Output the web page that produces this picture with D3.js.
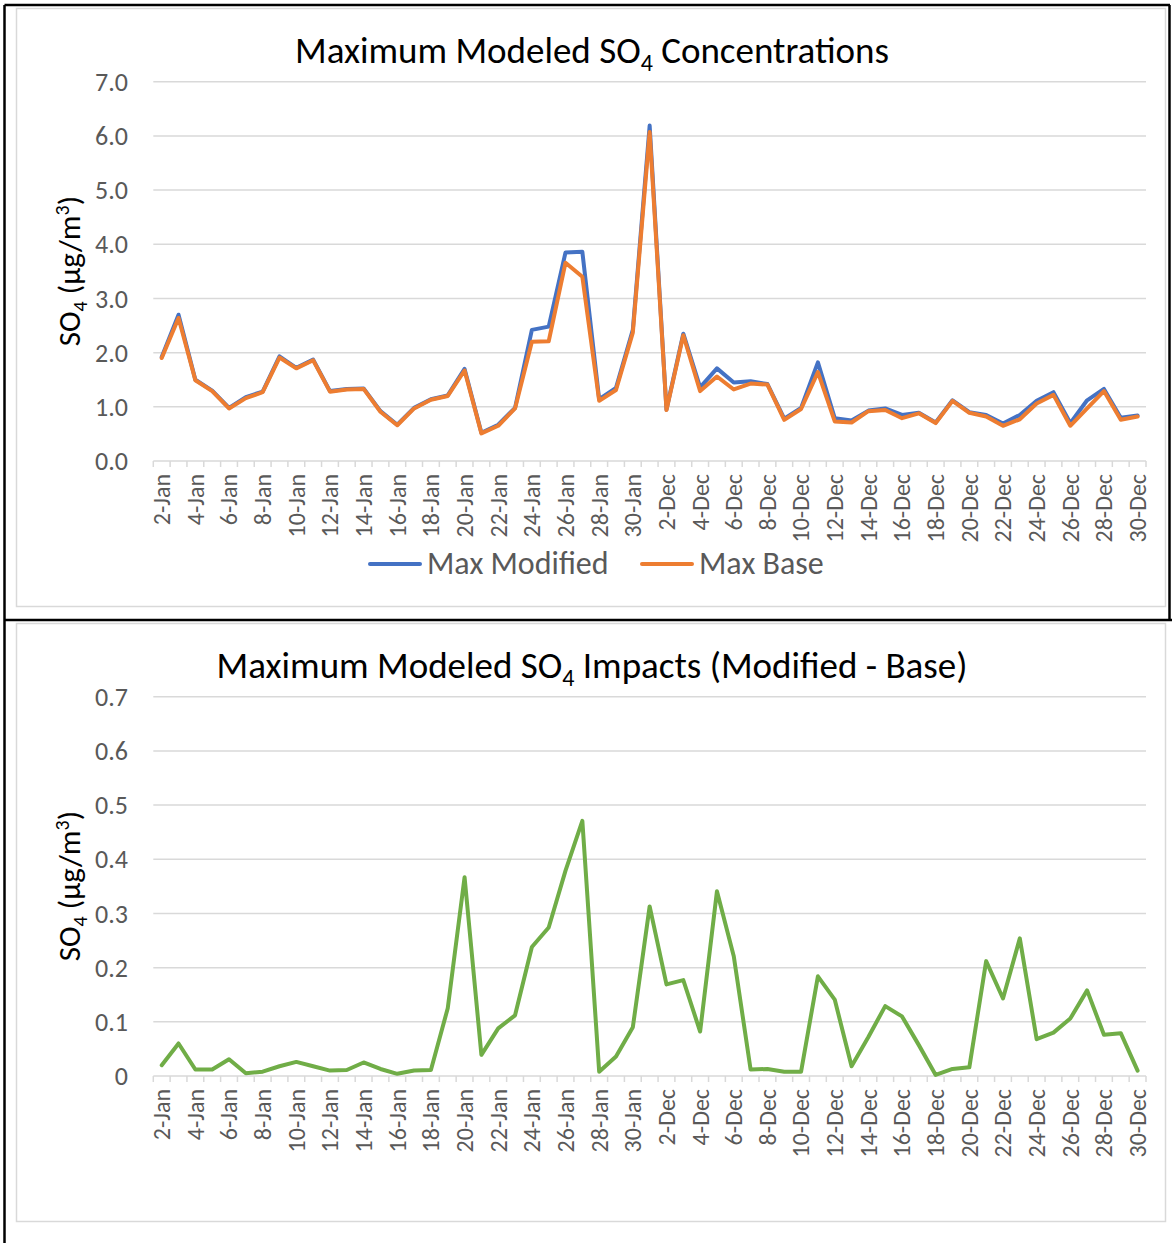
<!DOCTYPE html>
<html>
<head>
<meta charset="UTF-8">
<title>Maximum Modeled SO4</title>
<script src="https://d3js.org/d3.v7.min.js"></script>
<style>
 body { margin: 0; background: #fff; }
 text { font-family: Carlito, "Open Sans", sans-serif; }
</style>
</head>
<body>
<svg width="1172" height="1243"></svg>
<script>
// ---- data ----
var days = [];
for (var d = 2; d <= 31; d++) days.push(d + "-Jan");
for (var d = 2; d <= 30; d++) days.push(d + "-Dec");

var maxModified = [1.92, 2.70, 1.50, 1.30, 0.98, 1.18, 1.28, 1.93, 1.72, 1.87,
                   1.29, 1.33, 1.34, 0.92, 0.67, 0.98, 1.14, 1.21, 1.70, 0.52,
                   0.67, 0.98, 2.42, 2.48, 3.85, 3.86, 1.14, 1.35, 2.42, 6.19,
                   0.95, 2.35, 1.36, 1.71, 1.45, 1.47, 1.42, 0.78, 0.98, 1.82,
                   0.79, 0.75, 0.93, 0.97, 0.85, 0.89, 0.71, 1.12, 0.90, 0.85,
                   0.69, 0.85, 1.11, 1.27, 0.70, 1.12, 1.33, 0.80, 0.84];

var maxBase = [1.90, 2.64, 1.49, 1.29, 0.97, 1.16, 1.27, 1.91, 1.71, 1.86,
               1.28, 1.32, 1.33, 0.91, 0.66, 0.97, 1.13, 1.20, 1.67, 0.51,
               0.65, 0.97, 2.20, 2.21, 3.66, 3.40, 1.11, 1.31, 2.37, 6.07,
               0.94, 2.32, 1.29, 1.56, 1.32, 1.43, 1.41, 0.76, 0.96, 1.64,
               0.73, 0.71, 0.92, 0.94, 0.79, 0.88, 0.70, 1.11, 0.89, 0.82,
               0.65, 0.77, 1.06, 1.22, 0.65, 0.97, 1.29, 0.76, 0.82];

var impact = [0.020, 0.060, 0.012, 0.012, 0.031, 0.005, 0.008, 0.018, 0.026, 0.018,
              0.010, 0.011, 0.025, 0.013, 0.004, 0.010, 0.011, 0.125, 0.367, 0.039,
              0.088, 0.112, 0.238, 0.274, 0.379, 0.471, 0.008, 0.036, 0.090, 0.313,
              0.169, 0.177, 0.082, 0.341, 0.221, 0.012, 0.013, 0.008, 0.008, 0.184,
              0.141, 0.018, 0.072, 0.129, 0.110, 0.057, 0.002, 0.013, 0.016, 0.212,
              0.143, 0.254, 0.068, 0.080, 0.106, 0.158, 0.076, 0.079, 0.010];

var concTicks = [0, 1, 2, 3, 4, 5, 6, 7];
var impactTicks = [0, 0.1, 0.2, 0.3, 0.4, 0.5, 0.6, 0.7];

var svg = d3.select("svg");

var x = d3.scaleBand().domain(days).range([153.3, 1146]);
function cx(d) { return x(d) + x.bandwidth() / 2; }

// chart area frames (light grey)
svg.append("rect").attr("x", 16.5).attr("y", 8.5).attr("width", 1149).attr("height", 598)
   .style("fill", "none").style("stroke", "#d9d9d9").style("stroke-width", 1.5);
svg.append("rect").attr("x", 16.5).attr("y", 623.5).attr("width", 1149).attr("height", 598)
   .style("fill", "none").style("stroke", "#d9d9d9").style("stroke-width", 1.5);

function drawPanel(oy, ticks, fmt, seriesList, titleA, titleB) {
  var y = d3.scaleLinear().domain([0, ticks[ticks.length - 1]]).range([oy + 461, oy + 81.7]);
  var g = svg.append("g");

  // gridlines
  g.selectAll(".grid").data(ticks).enter().append("line")
    .attr("x1", 153.3).attr("x2", 1146)
    .attr("y1", function(t) { return y(t); }).attr("y2", function(t) { return y(t); })
    .style("stroke", "#d9d9d9").style("stroke-width", 1.5);

  // y tick labels
  g.selectAll(".ylab").data(ticks).enter().append("text")
    .attr("x", 128).attr("y", function(t) { return y(t); })
    .attr("dy", "0.35em").attr("text-anchor", "end")
    .style("font-size", "26px").style("fill", "#595959")
    .text(fmt);

  // x tick marks between categories
  var bounds = days.map(function(d) { return x(d); }).concat([1146]);
  g.selectAll(".xtick").data(bounds).enter().append("line")
    .attr("x1", function(b) { return b; }).attr("x2", function(b) { return b; })
    .attr("y1", y(0)).attr("y2", y(0) + 6)
    .style("stroke", "#d9d9d9").style("stroke-width", 1.5);

  // x labels, every other category
  g.selectAll(".xlab").data(days.filter(function(d, i) { return i % 2 === 0; }))
    .enter().append("text")
    .attr("transform", function(d) { return "translate(" + cx(d) + "," + (y(0) + 13) + ") rotate(-90)"; })
    .attr("dy", "0.35em").attr("text-anchor", "end")
    .style("font-size", "24px").style("fill", "#595959")
    .text(function(d) { return d; });

  // lines
  seriesList.forEach(function(s) {
    var line = d3.line()
      .x(function(v, i) { return cx(days[i]); })
      .y(function(v) { return y(v); });
    g.append("path").datum(s.values)
      .attr("d", line)
      .style("fill", "none").style("stroke", s.color).style("stroke-width", 4)
      .style("stroke-linejoin", "round").style("stroke-linecap", "round");
  });

  // title
  var t = g.append("text").attr("x", 592).attr("y", oy + 63).attr("text-anchor", "middle")
    .style("font-size", "37px").style("fill", "#000");
  t.append("tspan").text(titleA);
  t.append("tspan").attr("dy", 8).style("font-size", "24px").text("4");
  t.append("tspan").attr("dy", -8).text(titleB);

  // y axis title
  var yt = g.append("text")
    .attr("transform", "translate(80," + (oy + 271) + ") rotate(-90)")
    .attr("text-anchor", "middle").style("font-size", "31px").style("fill", "#000");
  yt.append("tspan").text("SO");
  yt.append("tspan").attr("dy", 7).style("font-size", "20px").text("4");
  yt.append("tspan").attr("dy", -7).text(" (\u00b5g/m");
  yt.append("tspan").attr("dy", -11).style("font-size", "20px").text("3");
  yt.append("tspan").attr("dy", 11).text(")");
}

drawPanel(0, concTicks, d3.format(".1f"),
  [{ values: maxModified, color: "#4472c4" }, { values: maxBase, color: "#ed7d31" }],
  "Maximum Modeled SO", " Concentrations");

drawPanel(615, impactTicks, function(t) { return t === 0 ? "0" : d3.format(".1f")(t); },
  [{ values: impact, color: "#70ad47" }],
  "Maximum Modeled SO", " Impacts (Modified - Base)");

// legend for the top panel
var legendItems = [
  { name: "Max Modified", color: "#4472c4", x: 368 },
  { name: "Max Base", color: "#ed7d31", x: 640 }
];
legendItems.forEach(function(it) {
  svg.append("line").attr("x1", it.x + 2).attr("x2", it.x + 52).attr("y1", 564).attr("y2", 564)
    .style("stroke", it.color).style("stroke-width", 4).style("stroke-linecap", "round");
  svg.append("text").attr("x", it.x + 59).attr("y", 574)
    .style("font-size", "32px").style("fill", "#595959").text(it.name);
});

// black table borders
var border = [
  [4.5, 5, 1170, 5],
  [4.5, 5, 4.5, 1243],
  [4.5, 620, 1172, 620],
  [1169.5, 5, 1169.5, 620]
];
border.forEach(function(b) {
  svg.append("line").attr("x1", b[0]).attr("y1", b[1]).attr("x2", b[2]).attr("y2", b[3])
    .style("stroke", "#000").style("stroke-width", 2.5);
});
</script>
</body>
</html>
